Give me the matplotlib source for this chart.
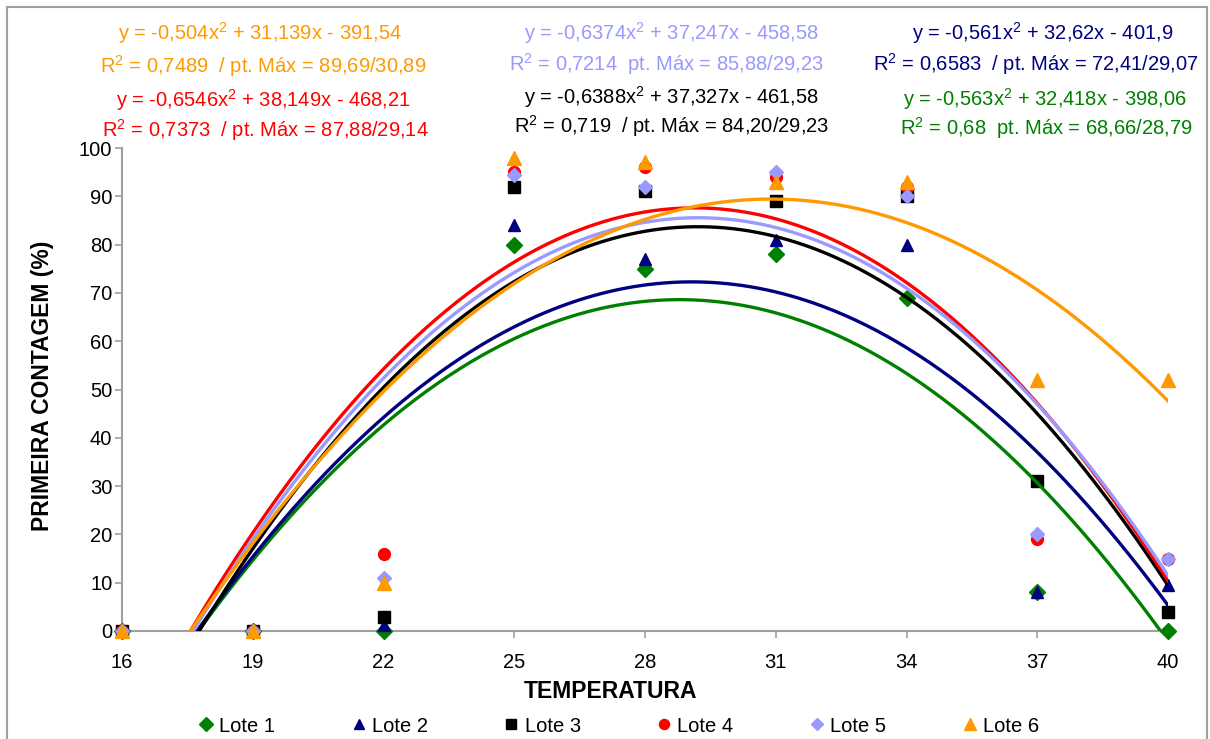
import numpy as np
import matplotlib
matplotlib.use("Agg")
import matplotlib.pyplot as plt
from matplotlib.patches import Rectangle

plt.rcParams['font.family'] = ['Liberation Sans', 'DejaVu Sans']
plt.rcParams['mathtext.fontset'] = 'custom'
plt.rcParams['mathtext.rm'] = 'Liberation Sans'
plt.rcParams['mathtext.it'] = 'Liberation Sans'

temperatures = [16, 19, 22, 25, 28, 31, 34, 37, 40]

lote1 = [0, 0, 0, 80, 75, 78, 69, 8, 0]
lote2 = [0, 0, 1.3, 84, 77, 81, 80, 8, 9.5]
lote3 = [0, 0, 3, 92, 91, 89, 90, 31, 4]
lote4 = [0, 0, 16, 95, 96, 94, 92, 19, 15]
lote5 = [0, 0, 11, 94.5, 92, 95, 90, 20, 15]
lote6 = [0, 0, 10, 98, 97, 93, 93, 52, 52]

# trendline coefficients (a, b, c) as printed on the chart
coef1 = [-0.563, 32.418, -398.06]
coef2 = [-0.561, 32.62, -401.9]
coef3 = [-0.6388, 37.327, -461.58]
coef4 = [-0.6546, 38.149, -468.21]
coef5 = [-0.6374, 37.247, -458.58]
coef6 = [-0.504, 31.139, -391.54]

labels = ['Lote 1', 'Lote 2', 'Lote 3', 'Lote 4', 'Lote 5', 'Lote 6']
colors = ['#008000', '#000080', '#000000', '#FF0000', '#9999FF', '#FF9900']
markers = ['D', '^', 's', 'o', 'D', '^']
msizes = [8, 8.5, 9, 8.5, 7, 10]

series = [lote1, lote2, lote3, lote4, lote5, lote6]
coefs = [coef1, coef2, coef3, coef4, coef5, coef6]

fig = plt.figure(figsize=(12.1, 7.39), dpi=100)
ax = fig.add_axes([122 / 1210, 1 - 631 / 739, (1168 - 122) / 1210, (631 - 148) / 739])

for vals, col, mk, ms, lab in zip(series, colors, markers, msizes, labels):
    ax.plot(temperatures, vals, linestyle='none', marker=mk, markersize=ms,
            color=col, label=lab, clip_on=False, zorder=3)

xs = np.linspace(16, 40, 400)
for c, col in zip(coefs, colors):
    ax.plot(xs, np.polyval(c, xs), color=col, lw=2.4, zorder=4)

ax.set_xlim(16, 40)
ax.set_ylim(0, 100)
ax.set_xticks(temperatures)
ax.set_yticks(range(0, 101, 10))
ax.tick_params(labelsize=14.5, colors='#A0A0A0', labelcolor='black', length=5, width=1.2)
ax.tick_params(axis='x', pad=11)
ax.tick_params(axis='y', pad=2)
for s in ['top', 'right']:
    ax.spines[s].set_visible(False)
for s in ['left', 'bottom']:
    ax.spines[s].set_color('#A0A0A0')
    ax.spines[s].set_linewidth(1.5)

fig.text(43 / 1210, 1 - 386 / 739, 'PRIMEIRA CONTAGEM (%)', rotation=90,
         ha='center', va='center', fontsize=16.5, fontweight='bold')
fig.text(610 / 1210, 1 - 691 / 739, 'TEMPERATURA', ha='center', va='center',
         fontsize=16.5, fontweight='bold')

# trendline equations
eqs = [
    (260, 33, r'y = -0,504x$^2$ + 31,139x - 391,54', colors[5]),
    (263, 66, r'R$^2$ = 0,7489  / pt. Máx = 89,69/30,89', colors[5]),
    (263, 100, r'y = -0,6546x$^2$ + 38,149x - 468,21', colors[3]),
    (265, 130, r'R$^2$ = 0,7373  / pt. Máx = 87,88/29,14', colors[3]),
    (672, 33, r'y = -0,6374x$^2$ + 37,247x - 458,58', colors[4]),
    (666, 64, r'R$^2$ = 0,7214  pt. Máx = 85,88/29,23', colors[4]),
    (672, 97, r'y = -0,6388x$^2$ + 37,327x - 461,58', colors[2]),
    (672, 126, r'R$^2$ = 0,719  / pt. Máx = 84,20/29,23', colors[2]),
    (1043, 33, r'y = -0,561x$^2$ + 32,62x - 401,9', colors[1]),
    (1036, 64, r'R$^2$ = 0,6583  / pt. Máx = 72,41/29,07', colors[1]),
    (1045, 99, r'y = -0,563x$^2$ + 32,418x - 398,06', colors[0]),
    (1046, 128, r'R$^2$ = 0,68  pt. Máx = 68,66/28,79', colors[0]),
]
for x, y, txt, col in eqs:
    fig.text(x / 1210, 1 - y / 739, txt, ha='center', va='center',
             fontsize=14.5, color=col)

fig.legend(loc='center', bbox_to_anchor=(617 / 1210, 1 - 726 / 739), ncol=6,
           frameon=False, fontsize=14.5, handletextpad=0.1, columnspacing=3.6,
           handlelength=1.1, markerscale=0.85)

fig.patches.append(Rectangle((7 / 1210, -0.02), 1200 / 1210, 1.02 - 7 / 739,
                             transform=fig.transFigure, fill=False,
                             edgecolor='#A0A0A0', lw=1.5))

fig.savefig('out.png', dpi=100)
